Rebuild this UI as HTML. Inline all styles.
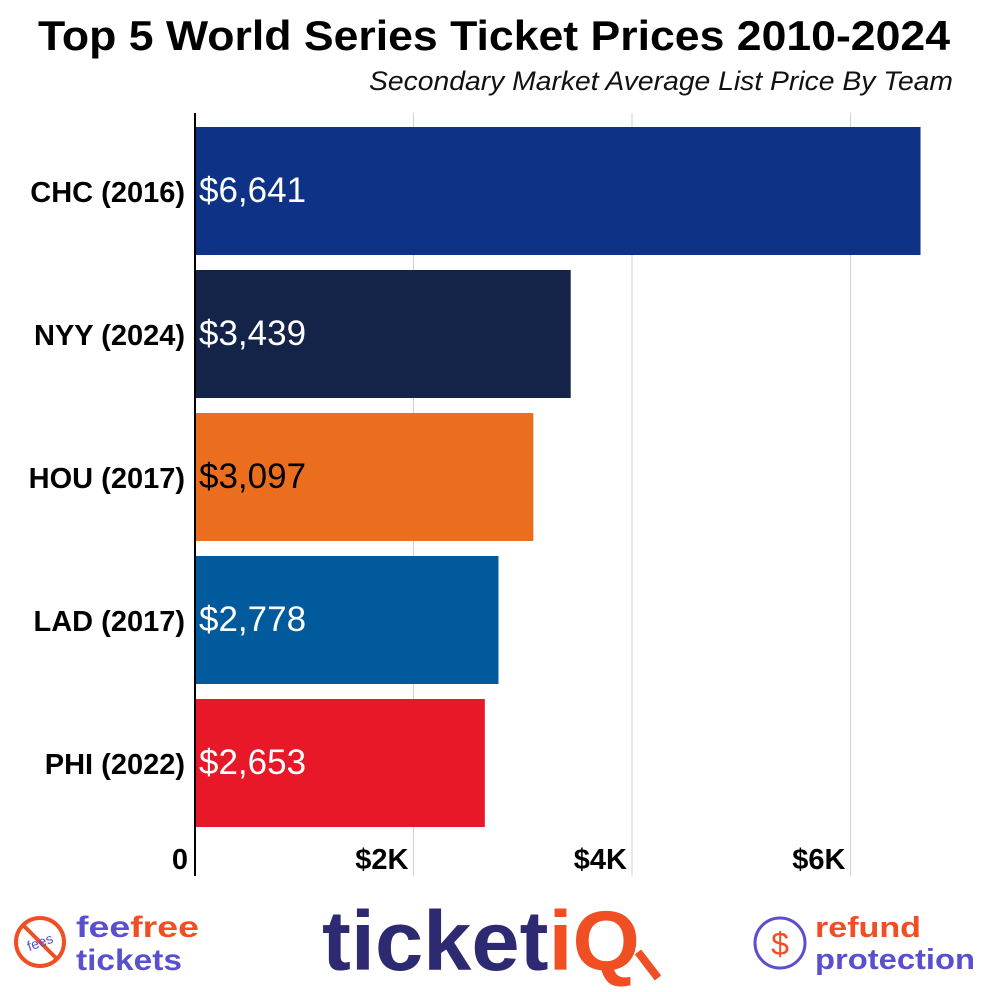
<!DOCTYPE html>
<html><head><meta charset="utf-8"><style>
body{margin:0;background:#fff;width:987px;height:987px;overflow:hidden;font-family:"Liberation Sans",sans-serif}
</style></head><body>
<svg width="987" height="987" viewBox="0 0 987 987" xmlns="http://www.w3.org/2000/svg">
<text x="494" y="50" text-anchor="middle" font-size="42" font-weight="bold" fill="#000" textLength="912" lengthAdjust="spacingAndGlyphs">Top 5 World Series Ticket Prices 2010-2024</text>
<text x="953" y="90" text-anchor="end" font-size="27" font-style="italic" fill="#111" textLength="584" lengthAdjust="spacingAndGlyphs">Secondary Market Average List Price By Team</text>
<g id="grid"></g>
<g id="bars"></g>
<line x1="195" y1="113" x2="195" y2="876" stroke="#000" stroke-width="2"/>
<g id="ticks"></g>
<g>
<circle cx="40" cy="942" r="24" fill="none" stroke="#f04e23" stroke-width="4"/>
<line x1="23" y1="925" x2="57" y2="959" stroke="#f04e23" stroke-width="4"/>
<text x="40" y="947" text-anchor="middle" font-size="14" fill="#5a4fcf" transform="rotate(-20 40 942)">fees</text>
<text x="76" y="937" font-size="30" font-weight="bold" fill="#5a4fcf" textLength="123" lengthAdjust="spacingAndGlyphs">fee<tspan fill="#f04e23">free</tspan></text>
<text x="76" y="970" font-size="30" font-weight="bold" fill="#5a4fcf" textLength="106" lengthAdjust="spacingAndGlyphs">tickets</text>
</g>
<g>
<text x="322" y="970" font-size="84" font-weight="bold" fill="#2d2a72" textLength="318" lengthAdjust="spacingAndGlyphs">ticket<tspan fill="#f04e23">iQ</tspan></text>
<line x1="638" y1="952" x2="658" y2="978" stroke="#f04e23" stroke-width="8"/>
</g>
<g>
<circle cx="780" cy="943" r="25" fill="none" stroke="#5a4fcf" stroke-width="3"/>
<text x="780" y="955" text-anchor="middle" font-size="32" fill="#f04e23">$</text>
<text x="815" y="937" font-size="29" font-weight="bold" fill="#f04e23" textLength="106" lengthAdjust="spacingAndGlyphs">refund</text>
<text x="815" y="969" font-size="29" font-weight="bold" fill="#5a4fcf" textLength="160" lengthAdjust="spacingAndGlyphs">protection</text>
</g>
</svg>
<script>
const categories=["CHC (2016)","NYY (2024)","HOU (2017)","LAD (2017)","PHI (2022)"];
const values=[6641,3439,3097,2778,2653];
const valueLabels=["$6,641","$3,439","$3,097","$2,778","$2,653"];
const colors=["#0e3386","#132448","#eb6e1f","#005a9c","#e81828"];
const labelColors=["#fff","#fff","#000","#fff","#fff"];
const tickValues=[0,2000,4000,6000];
const tickLabels=["0","$2K","$4K","$6K"];
const NS="http://www.w3.org/2000/svg";
const x=v=>195+v*0.10925;
const y=i=>127+i*143;
function mk(t,a,p){const e=document.createElementNS(NS,t);for(const k in a)e.setAttribute(k,a[k]);p.appendChild(e);return e;}
const grid=document.getElementById('grid'),bars=document.getElementById('bars'),ticks=document.getElementById('ticks');
tickValues.forEach((v,i)=>{
 if(v>0){const g=mk('line',{x1:x(v),x2:x(v),y1:113,y2:876,stroke:'#d0d0d0','stroke-width':1},grid);
 
 }
 const t=mk('text',{x:v===0?188:x(v)-5,y:869,'text-anchor':'end','font-size':29,'font-weight':'bold',fill:'#000'},ticks);
 t.textContent=tickLabels[i];
 
 
});
categories.forEach((c,i)=>{
 const r=mk('rect',{x:195,y:y(i),width:x(values[i])-195,height:128,fill:colors[i]},bars);
 
 
 const v=mk('text',{x:199,y:y(i)+75,'font-size':35,fill:labelColors[i]},bars);
 v.textContent=valueLabels[i];
 
 
 const l=mk('text',{x:185,y:y(i)+75,'text-anchor':'end','font-size':29,'font-weight':'bold',fill:'#000'},bars);
 l.textContent=c;
 
 
});
</script>
</body></html>
